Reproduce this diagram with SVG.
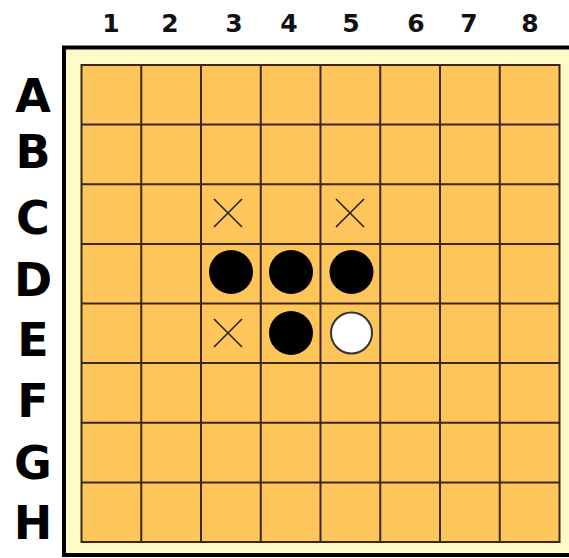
<svg xmlns="http://www.w3.org/2000/svg" width="569" height="558" viewBox="0 0 569 558">
<style>
.num{font-family:"DejaVu Sans","Liberation Sans",sans-serif;font-weight:bold;font-size:25px;fill:#111;text-anchor:middle}
.let{font-family:"DejaVu Sans","Liberation Sans",sans-serif;font-weight:bold;font-size:46px;fill:#000;text-anchor:middle}
.grid{stroke:#3b2812;stroke-width:2;fill:none}
.cross{stroke:#222;stroke-width:1.6;fill:none}
.black{fill:#000}
.white{fill:#fff;stroke:#333;stroke-width:2}
</style>
<rect width="569" height="558" fill="#fff"/>
<g id="frame">
<rect x="64" y="47.5" width="530" height="507.5" fill="#fffac8" stroke="#000" stroke-width="4"/>
<rect x="81.5" y="65" width="478" height="477" fill="#fec65a"/>
</g>
<g id="grid" class="grid">
<rect x="81.5" y="65" width="478" height="477"/>
<path d="M141.25 65V542M201 65V542M260.75 65V542M320.5 65V542M380.25 65V542M440 65V542M499.75 65V542"/>
<path d="M81.5 124.6H559.5M81.5 184.25H559.5M81.5 243.9H559.5M81.5 303.5H559.5M81.5 363.1H559.5M81.5 422.75H559.5M81.5 482.4H559.5"/>
</g>
<g id="col-labels">
<text class="num" x="111" y="32">1</text>
<text class="num" x="170" y="32">2</text>
<text class="num" x="234" y="32">3</text>
<text class="num" x="289" y="32">4</text>
<text class="num" x="351" y="32">5</text>
<text class="num" x="416" y="32">6</text>
<text class="num" x="469" y="32">7</text>
<text class="num" x="530" y="32">8</text>
</g>
<g id="row-labels">
<text class="let" x="33" y="112">A</text>
<text class="let" x="33" y="168">B</text>
<text class="let" x="33" y="234">C</text>
<text class="let" x="33" y="296">D</text>
<text class="let" x="33" y="356">E</text>
<text class="let" x="33" y="417">F</text>
<text class="let" x="33" y="479">G</text>
<text class="let" x="33" y="539">H</text>
</g>
<g id="discs">
<circle class="black" cx="231" cy="272" r="22"/>
<circle class="black" cx="291" cy="272" r="22"/>
<circle class="black" cx="351.5" cy="272" r="22"/>
<circle class="black" cx="291" cy="333" r="22"/>
<circle class="white" cx="351.5" cy="333" r="20.5"/>
</g>
<g id="marks" class="cross">
<path d="M214 199L242 227M242 199L214 227"/>
<path d="M336 199L364 227M364 199L336 227"/>
<path d="M214 319L242 347M242 319L214 347"/>
</g>
</svg>
